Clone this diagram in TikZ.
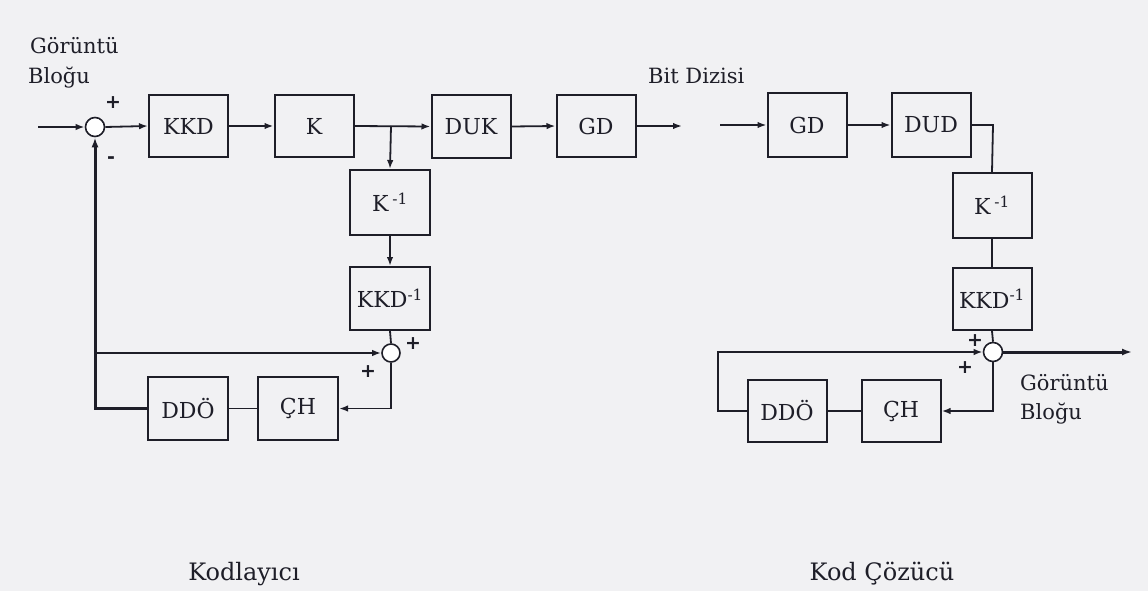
\documentclass[tikz,border=0pt]{standalone}
\usepackage{fontspec}
\setmainfont{DejaVu Serif}
\setsansfont{DejaVu Sans}
\usetikzlibrary{arrows.meta}
\definecolor{paper}{RGB}{241,241,243}
\definecolor{ink}{RGB}{30,30,40}
\begin{document}
\begin{tikzpicture}[x=1pt,y=-1pt,
  blk/.style={draw=ink,line width=2pt,minimum width=79pt,minimum height=62pt,inner sep=0pt,font=\fontsize{22}{24}\selectfont,text=ink},
  sumc/.style={draw=ink,line width=1.6pt,circle,minimum size=19pt,inner sep=0pt,fill=white},
  wire/.style={draw=ink,line width=1.8pt},
  arr/.style={wire,-{Latex[length=9pt,width=6.5pt]}},
  thick wire/.style={draw=ink,line width=3pt},
  lbl/.style={font=\fontsize{21}{24}\selectfont,text=ink,inner sep=0pt},
  sgn/.style={font=\sffamily\bfseries\fontsize{19}{19}\selectfont,text=ink,inner sep=0pt}]
\fill[paper] (0,0) rectangle (1148,591);
\useasboundingbox (0,0) rectangle (1148,591);

% encoder
\node[sumc] (s1) at (95,127) {};
\node[blk] (kkd) at (188.5,126) {KKD};
\node[blk] (k) at (314,126) {K};
\node[blk] (duk) at (471,126.5) {DUK};
\node[blk] (gd1) at (596,126) {GD};
\node[blk,minimum width=80pt,minimum height=65pt] (ki1) at (390,202.5) {K\,\textsuperscript{-1}};
\node[blk,minimum width=80pt,minimum height=63pt] (kkdi1) at (390,298.5) {KKD\textsuperscript{-1}};
\node[sumc,minimum size=18pt] (s2) at (391,353) {};
\node[blk,minimum width=80pt,minimum height=63pt] (ddo1) at (188,408.5) {DDÖ};
\node[blk,minimum width=80pt,minimum height=63pt] (ch1) at (298,408.5) {ÇH};

\coordinate (in1) at (38,127);
\coordinate (br1) at (391,126);
\coordinate (out1) at (682,126);
\coordinate (fb1) at (95,353);
\coordinate (dn1) at (391,408.5);
\coordinate (lc1) at (95,408.5);

\draw[arr] (in1) -- (s1.west);
\draw[arr] (s1.east) -- (kkd.west);
\draw[arr] (kkd.east) -- (k.west);
\draw[arr] (k.east) -- (duk.west);
\draw[arr] (br1) -- (ki1.north);
\draw[arr] (duk.east) -- (gd1.west);
\draw[arr] (gd1.east) -- (out1);
\draw[arr] (ki1.south) -- (kkdi1.north);
\draw[wire] (kkdi1.south) -- (s2.north);
\draw[arr] (fb1) -- (s2.west);
\draw[arr] (s2.south) -- (dn1) -- (ch1.east);
\draw[wire] (ch1.west) -- (ddo1.east);
\draw[thick wire,-{Latex[length=10pt,width=7pt]}] (ddo1.west) -- (lc1) -- (s1.south);

\node[sgn] (p1) at (113,103) {+};
\node[sgn] (m1) at (111,160) {-};
\node[sgn] (p2) at (413,344) {+};
\node[sgn] (p3) at (368,372) {+};

\node[lbl,anchor=west] (g1) at (30,46) {Görüntü};
\node[lbl,anchor=west] (b1) at (28,78) {Bloğu};
\node[lbl,anchor=west] (bd) at (648,76) {Bit Dizisi};
\node[lbl,font=\fontsize{24}{28}\selectfont] (kod) at (244,574) {Kodlayıcı};

% decoder
\node[blk,minimum height=64pt] (gd2) at (807,125) {GD};
\node[blk,minimum height=64pt] (dud) at (931,125) {DUD};
\node[blk,minimum height=65pt] (ki2) at (992,205.5) {K\,\textsuperscript{-1}};
\node[blk] (kkdi2) at (992,299) {KKD\textsuperscript{-1}};
\node[sumc] (s3) at (993,352) {};
\node[blk] (ddo2) at (787,411) {DDÖ};
\node[blk] (ch2) at (901,411) {ÇH};

\coordinate (in2) at (720,125);
\coordinate (cr2) at (993,125);
\coordinate (out2) at (1132,352);
\coordinate (dn2) at (993,411);
\coordinate (lc2) at (718,411);
\coordinate (lt2) at (718,352);

\draw[arr] (in2) -- (gd2.west);
\draw[arr] (gd2.east) -- (dud.west);
\draw[wire] (dud.east) -- (cr2) -- (ki2.north);
\draw[wire] (ki2.south) -- (kkdi2.north);
\draw[wire] (kkdi2.south) -- (s3.north);
\draw[thick wire,-{Latex[length=10pt,width=7pt]}] (s3.east) -- (out2);
\draw[arr] (s3.south) -- (dn2) -- (ch2.east);
\draw[wire] (ch2.west) -- (ddo2.east);
\draw[arr] (ddo2.west) -- (lc2) -- (lt2) -- (s3.west);

\node[sgn] (p4) at (975,341) {+};
\node[sgn] (p5) at (965,368) {+};

\node[lbl,anchor=west] (g2) at (1020,383) {Görüntü};
\node[lbl,anchor=west] (b2) at (1020,414) {Bloğu};
\node[lbl,font=\fontsize{24}{28}\selectfont] (kc) at (882,574) {Kod Çözücü};
\end{tikzpicture}
\end{document}
